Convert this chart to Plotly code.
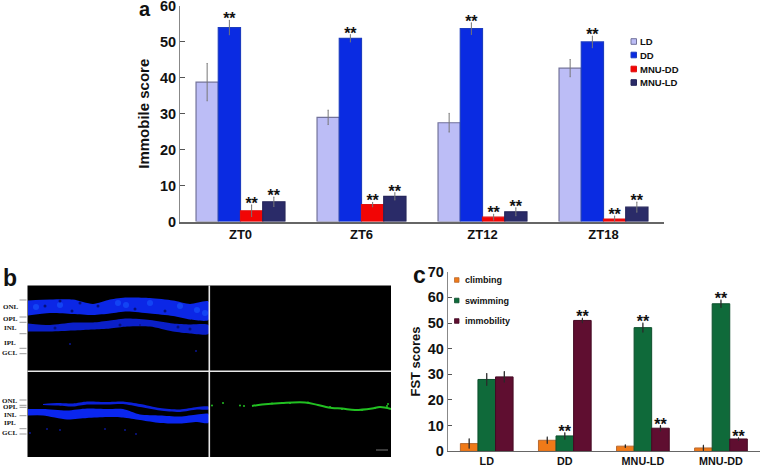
import plotly.graph_objects as go

W, H = 762, 467

# ---------- panel a data ----------
a_cats = ["ZT0", "ZT6", "ZT12", "ZT18"]
a_names = ["LD", "DD", "MNU-DD", "MNU-LD"]
a_ld = [38.8, 29.0, 27.5, 42.7]
a_dd = [54.0, 51.0, 53.7, 50.0]
a_mdd = [3.0, 4.7, 1.2, 0.7]
a_mld = [5.5, 7.0, 2.7, 4.0]
a_ld_err = [5.2, 2.0, 2.6, 2.4]
a_dd_err = [2.0, 1.0, 1.6, 1.6]
a_mdd_err = [1.6, 0.6, 0.8, 0.8]
a_mld_err = [1.3, 1.0, 1.1, 1.4]
a_stars = [False, True, True, True]
a_fill = ["#bcbdf6", "#0a2be2", "#f20505", "#2a2b68"]
a_edge = ["#72729a", "#1c3cc0", "#e01010", "#25255a"]

# ---------- panel c data ----------
c_cats = ["LD", "DD", "MNU-LD", "MNU-DD"]
c_names = ["climbing", "swimming", "immobility"]
c_climb = [3.0, 4.3, 2.0, 1.3]
c_swim = [28.0, 6.0, 48.2, 57.5]
c_immo = [29.0, 51.0, 9.0, 4.8]
c_climb_err = [1.8, 1.2, 0.5, 1.0]
c_swim_err = [2.3, 1.2, 1.7, 1.4]
c_immo_err = [2.0, 0.8, 1.0, 0.4]
c_star_climb = [False, False, False, False]
c_star_swim = [False, True, True, True]
c_star_immo = [False, True, True, True]
c_fill = ["#f07a18", "#0f6a3a", "#5f0e30"]
c_edge = ["#b86a30", "#0c4f2c", "#450a24"]

# ---------- panel b: (pixel position) ----------
b_x_nodes = [28, 50, 73, 93, 110, 127, 150, 173, 190, 208.5]
b1_onl_top = [300.5, 299.5, 299.5, 304, 299.5, 297.5, 298, 300.5, 304, 301.5]
b1_onl_bot = [315.5, 313, 314, 315, 313.5, 311.5, 313.5, 316, 319.5, 320]
b1_inl_top = [323.5, 325, 322.5, 322.5, 320.5, 318.5, 320, 323.5, 324.5, 325]
b1_inl_bot = [331.5, 331.5, 330.5, 329.5, 328.5, 326.5, 326.5, 331.5, 333.5, 334]
b2_x_onl = [43, 57, 73, 87, 107, 123, 140, 160, 180, 197, 208.5]
b2_onl_top = [404, 403, 403.5, 401.5, 402, 401.5, 404, 408, 409.5, 407, 406.5]
b2_onl_bot = [405, 405.5, 406.5, 404.5, 404.5, 404, 407, 410.5, 412, 409.5, 409.5]
b2_x_inl = [28, 43, 67, 87, 107, 123, 140, 160, 180, 197, 208.5]
b2_inl_top = [409, 409, 410.5, 408.5, 409, 409, 414.5, 415.5, 416.5, 414.5, 414]
b2_inl_bot = [415.5, 415.5, 419.5, 418, 417, 417.5, 420, 423, 423.5, 422, 423]
b_bright_x = [126, 118, 180, 197, 205, 150, 60, 36]
b_bright_y = [305, 303, 306, 310, 313, 303, 305, 307]
b_dark_x = [45, 72, 55, 98, 135, 165, 178, 190, 120, 60, 80]
b_dark_y = [306, 311, 328, 306, 309, 311, 327, 329, 325, 301, 303]
b_faint_x = [47, 60, 136, 196, 70, 140, 125, 30, 105]
b_faint_y = [429, 430, 434, 351, 344, 325, 430, 433, 429]
g_x = [252, 262, 282, 305, 318, 332, 342, 355, 372, 380, 391]
g_y = [406, 404.5, 403, 402.5, 405, 408, 408.5, 410, 408.5, 407, 409]
g_dot_x = [212, 223, 240, 244, 272, 290, 308, 330, 342, 355, 362, 375, 388, 387]
g_dot_y = [405.5, 403, 405.5, 406, 403.5, 403, 402.5, 407, 409, 410, 410, 408, 404, 406]

layers = ["ONL", "OPL", "INL", "IPL", "GCL", "ONL", "OPL", "INL", "IPL", "GCL"]
layer_x = [10.5, 10.5, 10.5, 10, 10, 10, 10, 10, 10, 9.5]
layer_y = [307, 319, 328, 342.5, 352.5, 401, 407, 414.5, 423, 432.5]
layer_tick_y = [300, 317, 322.3, 333.7, 348.3, 353.7, 400, 405.3, 407.3, 415.7, 428.7, 434]


def px_x(v):
    return v / W


def px_y(v):
    return 1 - v / H


fig = go.Figure()

# panel a bars
GROUP_A, GROUP_C = 0.735, 0.675
a_vals = [a_ld, a_dd, a_mdd, a_mld]
a_errs = [a_ld_err, a_dd_err, a_mdd_err, a_mld_err]
n = len(a_vals)
bw = GROUP_A / n
sx, sy = [], []
for k in range(n):
    xs = [i - GROUP_A / 2 + bw * (k + 0.5) for i in range(len(a_cats))]
    fig.add_trace(go.Bar(
        x=xs, y=a_vals[k], width=bw, name=a_names[k],
        marker=dict(color=a_fill[k], line=dict(color=a_edge[k], width=1.2)),
        error_y=dict(type="data", array=a_errs[k], color="#777", thickness=1, width=0.5),
        showlegend=False, xaxis="x", yaxis="y"))
    if a_stars[k]:
        sx += xs
        sy += [v + e for v, e in zip(a_vals[k], a_errs[k])]
fig.add_trace(go.Scatter(
    x=sx, y=sy, mode="text", text=["<b>**</b>"] * len(sx), textposition="middle center",
    textfont=dict(family="Liberation Sans", size=16, color="#111"),
    showlegend=False, xaxis="x", yaxis="y", hoverinfo="skip"))

# panel c bars
c_vals = [c_climb, c_swim, c_immo]
c_errs = [c_climb_err, c_swim_err, c_immo_err]
c_flags = [c_star_climb, c_star_swim, c_star_immo]
n = len(c_vals)
bw = GROUP_C / n
sx, sy = [], []
for k in range(n):
    xs = [i - GROUP_C / 2 + bw * (k + 0.5) for i in range(len(c_cats))]
    fig.add_trace(go.Bar(
        x=xs, y=c_vals[k], width=bw, name=c_names[k],
        marker=dict(color=c_fill[k], line=dict(color=c_edge[k], width=1)),
        error_y=dict(type="data", array=c_errs[k], color="#2a2a2a", thickness=1.3, width=0.5),
        showlegend=False, xaxis="x2", yaxis="y2"))
    for x0, v, e, f in zip(xs, c_vals[k], c_errs[k], c_flags[k]):
        if f:
            sx.append(x0)
            sy.append(v + e)
fig.add_trace(go.Scatter(
    x=sx, y=sy, mode="text", text=["<b>**</b>"] * len(sx), textposition="middle center",
    textfont=dict(family="Liberation Sans", size=16, color="#111"),
    showlegend=False, xaxis="x2", yaxis="y2", hoverinfo="skip"))


# panel b micrograph
def band(x, top, bot, color):
    fig.add_trace(go.Scatter(
        x=list(x) + list(x)[::-1], y=list(top) + list(bot)[::-1], mode="lines",
        line=dict(width=0, color=color, shape="spline", smoothing=0.7), fill="toself",
        fillcolor=color, showlegend=False, xaxis="x3", yaxis="y3", hoverinfo="skip"))


band(b_x_nodes, b1_onl_top, b1_onl_bot, "#0b27e6")
band(b_x_nodes, b1_inl_top, b1_inl_bot, "#0a1fc8")
band(b2_x_onl, b2_onl_top, b2_onl_bot, "#0a20d8")
band(b2_x_inl, b2_inl_top, b2_inl_bot, "#0a26ee")
fig.add_trace(go.Scatter(
    x=b_bright_x, y=b_bright_y, mode="markers",
    marker=dict(size=6, color="#1a5cff", opacity=0.55, line=dict(width=0)),
    showlegend=False, xaxis="x3", yaxis="y3", hoverinfo="skip"))
fig.add_trace(go.Scatter(
    x=b_dark_x, y=b_dark_y, mode="markers",
    marker=dict(size=3, color="#050e70", opacity=0.9, line=dict(width=0)),
    showlegend=False, xaxis="x3", yaxis="y3", hoverinfo="skip"))
fig.add_trace(go.Scatter(
    x=b_faint_x, y=b_faint_y, mode="markers",
    marker=dict(size=2, color="#0a1690", line=dict(width=0)),
    showlegend=False, xaxis="x3", yaxis="y3", hoverinfo="skip"))
fig.add_trace(go.Scatter(
    x=g_x, y=g_y, mode="lines", line=dict(color="#22c022", width=2, shape="spline"),
    showlegend=False, xaxis="x3", yaxis="y3", hoverinfo="skip"))
fig.add_trace(go.Scatter(
    x=g_dot_x, y=g_dot_y, mode="markers",
    marker=dict(size=2, color="#22c022", line=dict(width=0)),
    showlegend=False, xaxis="x3", yaxis="y3", hoverinfo="skip"))

shapes, annotations = [], []


def hline(x0, x1, y, color, w=1):
    shapes.append(dict(type="line", xref="paper", yref="paper",
                       x0=px_x(x0), x1=px_x(x1), y0=px_y(y), y1=px_y(y),
                       line=dict(color=color, width=w)))


def label(x, y, s, size, family="Liberation Sans", anchor="left", color="#111"):
    annotations.append(dict(xref="paper", yref="paper", x=px_x(x), y=px_y(y), text=s,
                            showarrow=False, xanchor=anchor, yanchor="middle",
                            font=dict(family=family, size=size, color=color)))


# dividers of the four-image panel
hline(27.5, 391, 371.3, "#e8e8e8", 1.6)
shapes.append(dict(type="line", xref="paper", yref="paper", x0=px_x(209.3), x1=px_x(209.3),
                   y0=px_y(285.5), y1=px_y(457), line=dict(color="#e8e8e8", width=1.6)))
hline(376, 388, 450, "#777", 1)
for y in layer_tick_y:
    hline(19.5, 26.5, y, "#999", 1)
for s, x, y in zip(layers, layer_x, layer_y):
    label(x, y, f"<b>{s}</b>", 7, "Liberation Serif", "center")

# panel letters
label(137, 9, "<b>a</b>", 20)
label(1, 278, "<b>b</b>", 23)
label(411, 275, "<b>c</b>", 23)

# legend of panel a
for nm, col, edge, y in zip(a_names, a_fill, a_edge, [41.5, 55, 69, 82.5]):
    shapes.append(dict(type="rect", xref="paper", yref="paper",
                       x0=px_x(631), x1=px_x(636.5), y0=px_y(y - 2.8), y1=px_y(y + 2.8),
                       fillcolor=col, line=dict(color=edge, width=1)))
    label(638, y, f"<b>{nm}</b>", 9.5)

# legend of panel c
for nm, col, edge, y in zip(c_names, c_fill, c_edge, [280, 300.5, 321]):
    shapes.append(dict(type="rect", xref="paper", yref="paper",
                       x0=px_x(454.5), x1=px_x(459), y0=px_y(y - 2.3), y1=px_y(y + 2.3),
                       fillcolor=col, line=dict(color=edge, width=0.8)))
    label(463, y, f"<b>{nm}</b>", 9)

axis_font = dict(family="Liberation Sans", size=14.5, color="#111")
fig.update_layout(
    width=W, height=H, margin=dict(l=0, r=0, t=0, b=0, autoexpand=False),
    paper_bgcolor="white", plot_bgcolor="white", showlegend=False,
    shapes=shapes, annotations=annotations,
    font=dict(family="Liberation Sans", color="#111"),
    xaxis=dict(domain=[px_x(180), px_x(664)], range=[-0.5, 3.5], tickvals=[0, 1, 2, 3],
               ticktext=[f"<b>{c}</b>" for c in a_cats], showgrid=False, zeroline=False,
               showline=True, linecolor="#666", linewidth=1.5, ticks="", anchor="y", automargin=False,
               tickfont=dict(family="Liberation Sans", size=13, color="#111")),
    yaxis=dict(domain=[px_y(221.5), px_y(6)], range=[0, 60], tickvals=[0, 10, 20, 30, 40, 50, 60],
               ticktext=[f"<b>{v}</b>" for v in [0, 10, 20, 30, 40, 50, 60]], showgrid=False,
               zeroline=False, showline=True, linecolor="#888", linewidth=1, ticks="inside",
               ticklen=5, tickcolor="#555", tickwidth=1, anchor="x", tickfont=axis_font, automargin=True,
               ticklabeloverflow="allow",
               title=dict(text="<b>Immobile score</b>", standoff=6,
                          font=dict(family="Liberation Sans", size=15, color="#111"))),
    xaxis2=dict(domain=[px_x(447.7), px_x(760)], range=[-0.5, 3.5], tickvals=[0, 1, 2, 3],
                ticktext=[f"<b>{c}</b>" for c in c_cats], showgrid=False, zeroline=False,
                showline=True, linecolor="#666", linewidth=1.3, ticks="", anchor="y2", automargin=False,
                ticklabeloverflow="allow",
                tickfont=dict(family="Liberation Sans", size=10.8, color="#111")),
    yaxis2=dict(domain=[px_y(451.3), px_y(271.7)], range=[0, 70],
                tickvals=[0, 10, 20, 30, 40, 50, 60, 70],
                ticktext=[f"<b>{v}</b>" for v in [0, 10, 20, 30, 40, 50, 60, 70]], showgrid=False,
                zeroline=False, showline=True, linecolor="#888", linewidth=1, ticks="inside",
                ticklen=4, tickcolor="#555", tickwidth=1, anchor="x2", tickfont=axis_font, automargin=True,
                title=dict(text="<b>FST scores</b>", standoff=4,
                           font=dict(family="Liberation Sans", size=13, color="#111"))),
    xaxis3=dict(domain=[px_x(27.5), px_x(391)], range=[27.5, 391], visible=False, anchor="y3", automargin=False),
    yaxis3=dict(domain=[px_y(457), px_y(285.5)], range=[457, 285.5], visible=False, anchor="x3", automargin=False),
)
fig.add_shape(type="rect", xref="paper", yref="paper", layer="below",
              x0=px_x(27.5), x1=px_x(391), y0=px_y(457), y1=px_y(285.5),
              fillcolor="black", line=dict(width=0))

fig.write_html("out.html", config={"displayModeBar": False},
               post_script="document.body.style.margin='0';document.documentElement.style.overflow='hidden';")
